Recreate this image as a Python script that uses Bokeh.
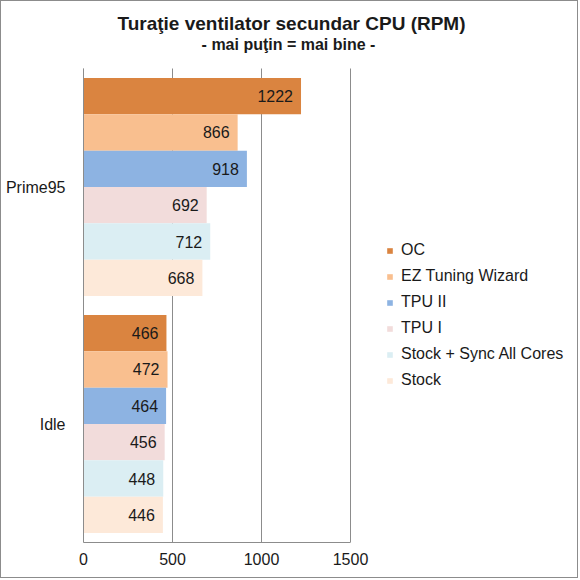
from bokeh.plotting import figure
from bokeh.models import Legend, LegendItem, Label, FixedTicker, ColumnDataSource
from bokeh.core.properties import value
from bokeh.embed import file_html
from bokeh.resources import INLINE

# Test scenarios (bottom to top on the axis)
scenarios = ["Idle", "Prime95"]

# Configurations, listed top to bottom within each group
series_names = ["OC", "EZ Tuning Wizard", "TPU II", "TPU I", "Stock + Sync All Cores", "Stock"]
series_colors = ["#DA8440", "#F9BF8F", "#8DB3E2", "#F2DCDB", "#DBEEF3", "#FDE9D9"]

# Secondary CPU fan speed in RPM: [Idle, Prime95]
oc = [466, 1222]
ez_tuning = [472, 866]
tpu2 = [464, 918]
tpu1 = [456, 692]
stock_sync = [448, 712]
stock = [446, 668]
series_values = [oc, ez_tuning, tpu2, tpu1, stock_sync, stock]

x_ticks = [0, 500, 1000, 1500]

title_text = "Turaţie ventilator secundar CPU (RPM)"
subtitle_text = "- mai puţin = mai bine -"

FONT = "Liberation Sans"
GRID = "#8C8C8C"
TXT = "#1A1A1A"

# Canvas geometry: the frame fills the canvas above and right of the axes so the
# titles and the legend can live inside it; the value axis spans AXIS_PX pixels
# and the category band spans BAND_PX pixels up from the bottom.
W, H = 578, 578
LEFT, BOTTOM = 82, 37
AXIS_PX, BAND_PX = 267, 474
n_cat = len(scenarios)
x_end = x_ticks[-1] * (W - LEFT) / AXIS_PX
y_end = n_cat * (H - BOTTOM) / BAND_PX

p = figure(
    width=W, height=H,
    x_range=(0, x_end), y_range=(0, y_end),
    output_backend="svg", toolbar_location=None,
    min_border_left=LEFT, min_border_right=0, min_border_top=0, min_border_bottom=BOTTOM,
)
p.title = None
p.styles = {"border": "1px solid #8C8C8C"}
p.outline_line_color = None
p.background_fill_color = "white"
p.border_fill_color = "white"
p.xgrid.grid_line_color = None
p.ygrid.grid_line_color = None

# vertical grid lines over the category band only
p.segment(x0=x_ticks, x1=x_ticks, y0=[0] * len(x_ticks), y1=[n_cat] * len(x_ticks),
          line_color=GRID, line_width=1)

# bars with value labels at their ends
n = len(series_names)
bar_h = 0.92 / n
centers = [k + 0.5 for k in range(n_cat)]
items = []
for i, (name, color, vals) in enumerate(zip(series_names, series_colors, series_values)):
    off = (n / 2 - 0.5 - i) * bar_h
    src = ColumnDataSource(dict(y=[c + off for c in centers], val=vals,
                                txt=[str(v) for v in vals]))
    r = p.hbar(y="y", right="val", left=0, height=bar_h, source=src,
               fill_color=color, line_color=None)
    p.text(x="val", y="y", text="txt", source=src,
           text_align="right", text_baseline="middle", x_offset=-8,
           text_font=value(FONT), text_font_size="16px", text_color=TXT)
    items.append(LegendItem(label=name, renderers=[r]))

# value axis
p.xaxis.ticker = FixedTicker(ticks=x_ticks)
p.xaxis.bounds = (x_ticks[0], x_ticks[-1])
p.xaxis.axis_line_color = GRID
p.xaxis.major_tick_line_color = None
p.xaxis.minor_tick_line_color = None
p.xaxis.major_label_text_font = FONT
p.xaxis.major_label_text_font_size = "16px"
p.xaxis.major_label_text_color = TXT
p.xaxis.major_label_standoff = 4

# category axis
p.yaxis.ticker = FixedTicker(ticks=centers)
p.yaxis.major_label_overrides = {c: s for c, s in zip(centers, scenarios)}
p.yaxis.bounds = (0, n_cat)
p.yaxis.axis_line_color = GRID
p.yaxis.major_tick_line_color = None
p.yaxis.minor_tick_line_color = None
p.yaxis.major_label_text_font = FONT
p.yaxis.major_label_text_font_size = "16px"
p.yaxis.major_label_text_color = TXT
p.yaxis.major_label_standoff = 12

legend = Legend(items=items, location=(AXIS_PX + 36, 152), orientation="vertical",
                glyph_width=7, glyph_height=7, label_height=20, spacing=6,
                label_standoff=8, padding=0, margin=0,
                border_line_color=None, background_fill_alpha=0,
                label_text_font=FONT, label_text_font_size="16px",
                label_text_color=TXT)
p.add_layout(legend, "center")

# title and subtitle, placed in screen units from the frame's bottom-left corner
p.add_layout(Label(x=208, y=H - BOTTOM - 22, x_units="screen", y_units="screen",
                   text=title_text, text_align="center", text_baseline="alphabetic",
                   text_font=FONT, text_font_size="19px", text_font_style="bold",
                   text_color=TXT))
p.add_layout(Label(x=205, y=H - BOTTOM - 43, x_units="screen", y_units="screen",
                   text=subtitle_text, text_align="center", text_baseline="alphabetic",
                   text_font=FONT, text_font_size="16px", text_font_style="bold",
                   text_color=TXT))

open("out.html", "w").write(file_html(p, INLINE))
